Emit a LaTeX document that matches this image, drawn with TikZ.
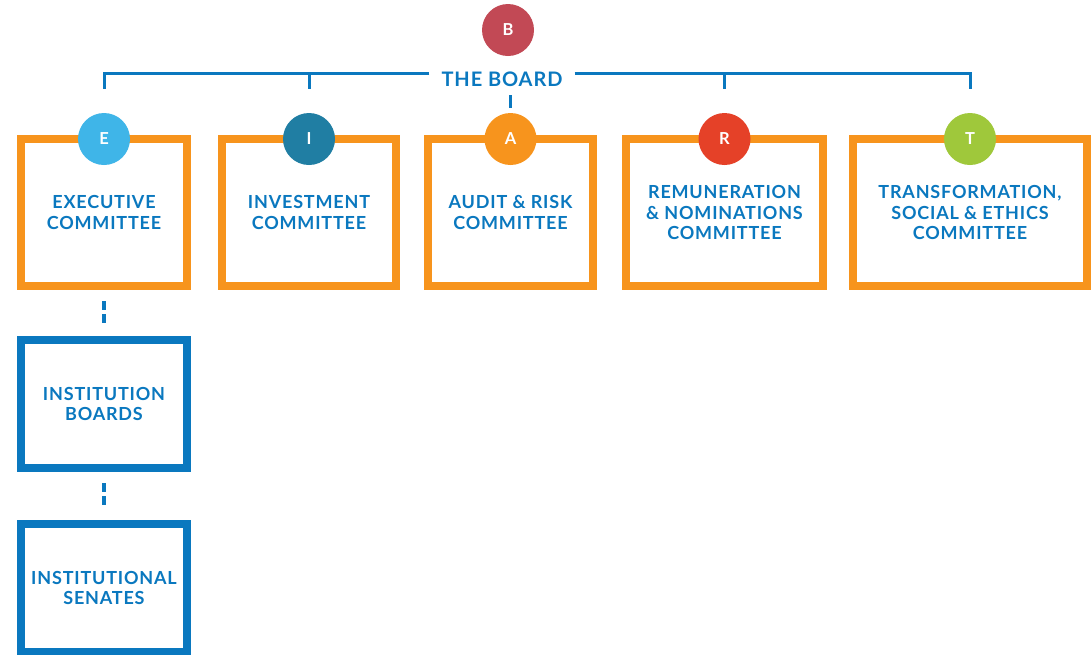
\documentclass[tikz,border=0pt]{standalone}
\usepackage{fontspec}
\newfontfamily\chartfont{Lato}[LetterSpace=4.5]
\usetikzlibrary{positioning,calc}

\definecolor{boxorange}{HTML}{F7941D}
\definecolor{boardblue}{HTML}{0A78BF}
\definecolor{badgeB}{HTML}{C24955}
\definecolor{badgeE}{HTML}{3FB5E8}
\definecolor{badgeI}{HTML}{207EA3}
\definecolor{badgeA}{HTML}{F7941D}
\definecolor{badgeR}{HTML}{E54128}
\definecolor{badgeT}{HTML}{9FC83B}

\begin{document}
\begin{tikzpicture}[x=1pt,y=-1pt,
  comm/.style={draw=boxorange,line width=8pt,fill=white,inner sep=0pt,outer sep=0pt,
    text=boardblue,align=center,minimum height=147pt,
    font=\chartfont\bfseries\fontsize{18}{20.5}\selectfont},
  inst/.style={comm,draw=boardblue,minimum height=128pt},
  badge/.style={circle,minimum size=52pt,inner sep=0pt,text=white,
    font=\chartfont\bfseries\fontsize{16.5}{16.5}\selectfont},
  busline/.style={draw=boardblue,line width=3pt},
  linkdash/.style={draw=boardblue,line width=3.5pt,dash pattern=on 9pt off 4pt,
    shorten <=15pt,shorten >=17pt}]
  \useasboundingbox (0,0) rectangle (1091,654);

  % Committees
  \node[comm,minimum width=166pt] (exec) at (104,212.5) {EXECUTIVE\\COMMITTEE};
  \node[comm,minimum width=174pt] (invest) at (309,212.5) {INVESTMENT\\COMMITTEE};
  \node[comm,minimum width=165pt] (audit) at (510.5,212.5) {AUDIT \& RISK\\COMMITTEE};
  \node[comm,minimum width=197pt] (remun) at (724.5,212.5) {REMUNERATION\\\& NOMINATIONS\\COMMITTEE};
  \node[comm,minimum width=234pt] (transf) at (970,212.5) {TRANSFORMATION,\\SOCIAL \& ETHICS\\COMMITTEE};

  % Institutions
  \node[inst,minimum width=166pt] (instboards) at (104,404) {INSTITUTION\\BOARDS};
  \node[inst,minimum width=166pt] (senates) at (104,588) {INSTITUTIONAL\\SENATES};

  % Badges
  \node[badge,fill=badgeB] (bB) at (508,30) {B};
  \node[badge,fill=badgeE] (bE) at (exec.north) {E};
  \node[badge,fill=badgeI] (bI) at (invest.north) {I};
  \node[badge,fill=badgeA] (bA) at (audit.north) {A};
  \node[badge,fill=badgeR] (bR) at (remun.north) {R};
  \node[badge,fill=badgeT] (bT) at (transf.north) {T};

  % The board and its line
  \node[text=boardblue,inner xsep=12pt,font=\chartfont\bfseries\fontsize{20}{20}\selectfont]
    (board) at (502,79) {THE BOARD};
  \coordinate (bus) at (0,73);
  \draw[busline] (board.west |- bus) -- (exec.north |- bus) -- ++(0,16);
  \draw[busline] (board.east |- bus) -- (transf.north |- bus) -- ++(0,16);
  \draw[busline] (invest.north |- bus) -- ++(0,16);
  \draw[busline] (remun.north |- bus) -- ++(0,16);
  \draw[busline] ([yshift=5pt]bA.north) -- ([yshift=18pt]bA.north);

  % Dashed links
  \draw[linkdash] (exec.south) -- (instboards.north);
  \draw[linkdash] (instboards.south) -- (senates.north);
\end{tikzpicture}
\end{document}
